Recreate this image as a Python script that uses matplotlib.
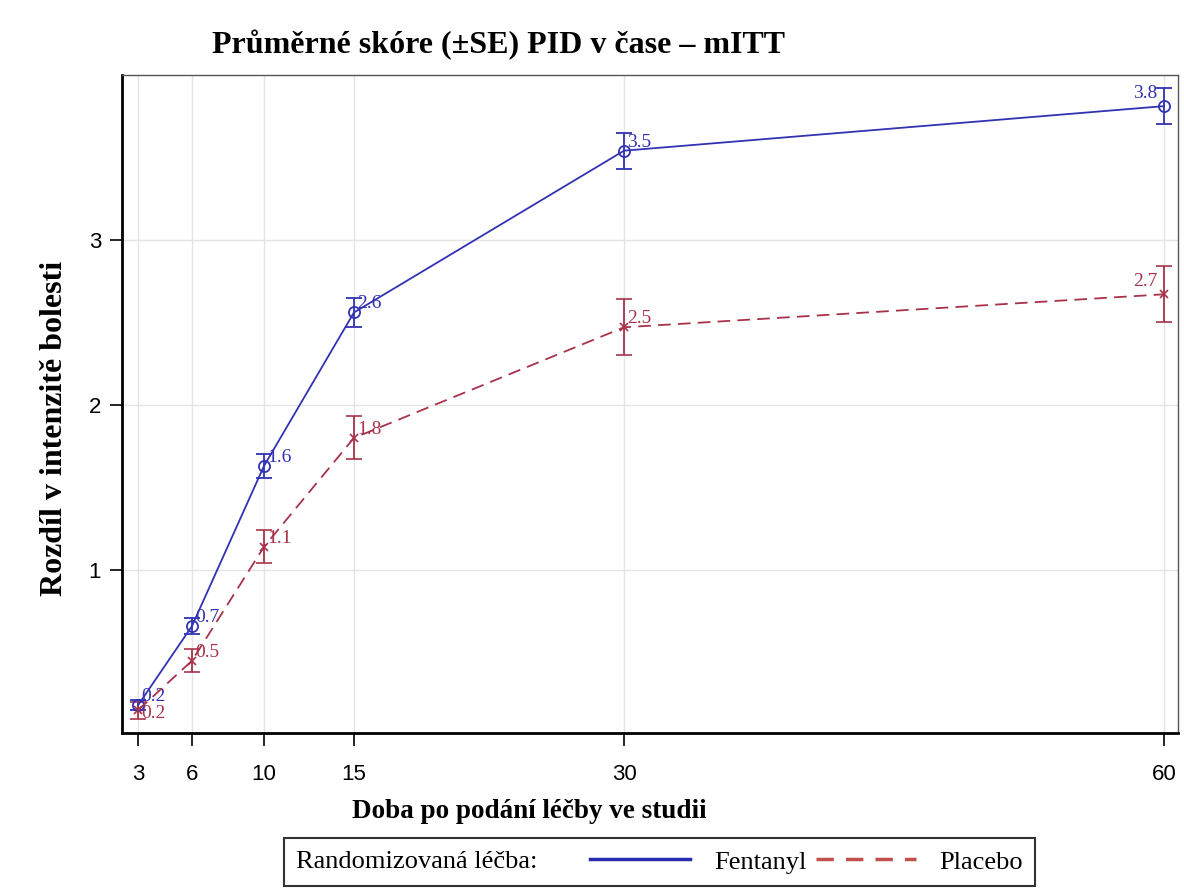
import matplotlib
matplotlib.use("Agg")
import matplotlib.pyplot as plt
from matplotlib.lines import Line2D
from matplotlib.offsetbox import HPacker

plt.rcParams['font.family'] = ['Liberation Serif', 'DejaVu Serif']

# data
times = [3, 6, 10, 15, 30, 60]
fent_mean = [0.18, 0.66, 1.63, 2.56, 3.54, 3.81]
fent_se = [0.03, 0.05, 0.07, 0.09, 0.11, 0.11]
fent_labels = ["0.2", "0.7", "1.6", "2.6", "3.5", "3.8"]
plac_mean = [0.15, 0.45, 1.14, 1.80, 2.47, 2.67]
plac_se = [0.05, 0.07, 0.10, 0.13, 0.17, 0.17]
plac_labels = ["0.2", "0.5", "1.1", "1.8", "2.5", "2.7"]

BLUE = '#3232b4'
RED = '#a8324a'

fig = plt.figure(figsize=(11.84, 8.90), dpi=100)
ax = fig.add_axes([0.103, 0.176, 0.892, 0.740])

ax.errorbar(times, fent_mean, yerr=fent_se, color=BLUE, lw=1.3, marker='o',
            ms=8, mfc='none', mec=BLUE, mew=1.3, capsize=6, elinewidth=1.3,
            capthick=1.3, zorder=3)
ax.errorbar(times, plac_mean, yerr=plac_se, color=RED, lw=1.3, ls=(0, (7, 4)),
            marker='x', ms=6, mew=1.2, capsize=6, elinewidth=1.3,
            capthick=1.3, zorder=3)

for t, v, s in zip(times, fent_mean, fent_labels):
    if t == 60:
        ax.annotate(s, (t, v), xytext=(-5, 3), textcoords='offset points',
                    ha='right', va='bottom', color=BLUE, fontsize=14)
    else:
        ax.annotate(s, (t, v), xytext=(2, 0), textcoords='offset points',
                    ha='left', va='bottom', color=BLUE, fontsize=14)

for t, v, s in zip(times, plac_mean, plac_labels):
    if t == 60:
        ax.annotate(s, (t, v), xytext=(-5, 3), textcoords='offset points',
                    ha='right', va='bottom', color=RED, fontsize=14)
    elif t == 3:
        ax.annotate(s, (t, v), xytext=(2, -2), textcoords='offset points',
                    ha='left', va='center', color=RED, fontsize=14)
    else:
        ax.annotate(s, (t, v), xytext=(2, 0), textcoords='offset points',
                    ha='left', va='bottom', color=RED, fontsize=14)

ax.set_xlim(2.11, 60.78)
ax.set_ylim(0.01, 4.0)
ax.set_xticks(times)
ax.set_yticks([1, 2, 3])
ax.tick_params(labelsize=16, length=9, width=1.2, direction='out', pad=6)
ax.tick_params(axis='x', pad=13)
for lab in ax.get_xticklabels() + ax.get_yticklabels():
    lab.set_family(['Liberation Sans', 'DejaVu Sans'])
ax.grid(True, color='#e4e4e4', lw=1)
ax.set_axisbelow(True)

for side in ['left', 'bottom']:
    ax.spines[side].set_linewidth(2)
    ax.spines[side].set_color('black')
for side in ['top', 'right']:
    ax.spines[side].set_linewidth(1)
    ax.spines[side].set_color('#555555')

fig.text(0.421, 0.949, "Průměrné skóre (±SE) PID v čase – mITT",
         ha='center', va='center', fontsize=23, fontweight='bold')
fig.text(0.447, 0.088, "Doba po podání léčby ve studii",
         ha='center', va='center', fontsize=19.5, fontweight='bold')
fig.text(0.046, 0.519, "Rozdíl v intenzitě bolesti", rotation=90,
         ha='center', va='center', fontsize=23, fontweight='bold')

handles = [Line2D([], [], color='#2a2ab0', lw=2.5),
           Line2D([], [], color='#c0504d', lw=2.5, ls=(0, (5, 3.5)))]
labels = ["Fentanyl", "Placebo"]
leg = fig.legend(handles, labels, loc='center', bbox_to_anchor=(0.557, 0.0315),
                 ncol=2, fontsize=19, frameon=True, fancybox=False,
                 edgecolor='black', handlelength=3.8, handletextpad=0.9,
                 columnspacing=0.35, borderpad=0.45,
                 title="Randomizovaná léčba:", title_fontsize=19)
leg.get_frame().set_linewidth(1.5)
# put the legend title on the same row as the entries
row = HPacker(pad=0.45 * 19, sep=38, align='center',
              children=[leg._legend_title_box, leg._legend_handle_box])
row.set_figure(fig)
row.set_offset(leg._findoffset)
leg._legend_box = row

fig.savefig("out.png", dpi=100)
